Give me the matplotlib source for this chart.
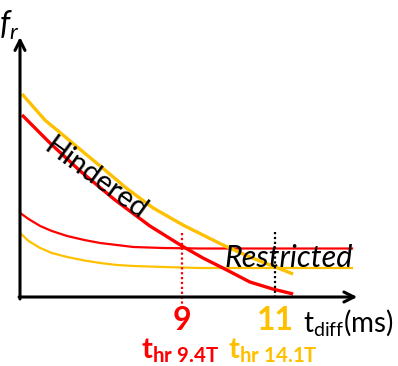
# ==== IMPORT ================================================================ #

import matplotlib
matplotlib.use("Agg")
import matplotlib.pyplot as plt

# ==== DATA ================================================================== #

# x in ms (t_diff), y in arbitrary f_r units
hind_14_t = [5.56, 5.73, 6.05, 6.44, 6.85, 7.24, 7.80, 8.38, 9.02, 9.45, 9.88, 10.46, 10.95, 11.39]
hind_14_f = [2.03, 1.94, 1.77, 1.62, 1.46, 1.31, 1.09, 0.89, 0.72, 0.62, 0.52, 0.40, 0.31, 0.23]

hind_94_t = [5.56, 6.16, 6.81, 7.56, 8.31, 9.00, 9.45, 9.88, 10.46, 10.95, 11.39]
hind_94_f = [1.82, 1.54, 1.26, 0.97, 0.71, 0.51, 0.39, 0.29, 0.15, 0.08, 0.03]

restr_94_t = [5.52, 5.70, 5.95, 6.20, 6.53, 6.90, 7.24, 7.60, 7.95, 8.60, 9.39, 12.68]
restr_94_f = [0.84, 0.78, 0.71, 0.66, 0.61, 0.57, 0.54, 0.52, 0.50, 0.49, 0.485, 0.485]

restr_14_t = [5.52, 5.70, 5.95, 6.20, 6.53, 6.90, 7.24, 7.60, 7.95, 8.60, 9.39, 12.68]
restr_14_f = [0.64, 0.56, 0.49, 0.44, 0.40, 0.365, 0.34, 0.32, 0.31, 0.30, 0.29, 0.29]

t_hr       = [9, 11]
t_hr_text  = ["9", "11"]
t_hr_names = [r"$\mathbf{t}_{\mathbf{hr\ 9.4T}}$", r"$\mathbf{t}_{\mathbf{hr\ 14.1T}}$"]

RED  = "#FF0000"
GOLD = "#FFC000"

# ==== PLOT ================================================================== #

def main():

    plt.rcParams["font.family"]       = ["Lato", "DejaVu Sans"]
    plt.rcParams["mathtext.fontset"]  = "custom"
    plt.rcParams["mathtext.rm"]       = "Lato"
    plt.rcParams["mathtext.it"]       = "Lato:italic"
    plt.rcParams["mathtext.bf"]       = "Lato:bold"

    fig = plt.figure(figsize = (3.98, 3.66), dpi = 100)
    ax  = fig.add_axes([0, 0, 1, 1])
    ax.set_xlim(5.086, 13.645)
    ax.set_ylim(-0.69, 2.97)
    ax.axis("off")

    t0 = 5.516

    # axes with arrows
    ax.annotate("", xy = (t0, 2.60), xytext = (t0, -0.02),
                arrowprops = dict(arrowstyle = "->", lw = 2.2, color = "black",
                                  mutation_scale = 18, shrinkA = 0, shrinkB = 0))
    ax.annotate("", xy = (12.77, 0.0), xytext = (t0 - 0.02, 0.0),
                arrowprops = dict(arrowstyle = "->", lw = 2.2, color = "black",
                                  mutation_scale = 18, shrinkA = 0, shrinkB = 0))

    # curves
    ax.plot(restr_94_t, restr_94_f, color = RED,  lw = 1.6, solid_capstyle = "butt")
    ax.plot(restr_14_t, restr_14_f, color = GOLD, lw = 1.6, solid_capstyle = "butt")
    ax.plot(hind_14_t,  hind_14_f,  color = GOLD, lw = 2.4, solid_capstyle = "butt")
    ax.plot(hind_94_t,  hind_94_f,  color = RED,  lw = 2.4, solid_capstyle = "butt")

    # dotted markers
    ax.plot([t_hr[0], t_hr[0]], [0.64, -0.13], color = RED,   lw = 1.6, ls = (0, (1, 1.2)))
    ax.plot([t_hr[1], t_hr[1]], [0.65, -0.03], color = "black", lw = 1.6, ls = (0, (1, 1.2)))

    # texts
    ax.text(7.14, 1.18, "Hindered", rotation = -36, fontsize = 21,
            ha = "center", va = "center", rotation_mode = "anchor")
    ax.text(11.30, 0.39, "Restricted", style = "italic", fontsize = 22,
            ha = "center", va = "center")
    ax.text(5.28, 2.72, r"$f_r$", fontsize = 23, ha = "center", va = "center")

    cols = [RED, GOLD]
    for t, s, name, c in zip(t_hr, t_hr_text, t_hr_names, cols):
        ax.text(t, -0.23, s, color = c, fontsize = 23, fontweight = "bold",
                ha = "center", va = "center")
        ax.text(t - 0.04, -0.54, name, color = c, fontsize = 21,
                ha = "center", va = "center")

    ax.text(11.60, -0.25, r"t$_{\mathrm{diff}}$(ms)", fontsize = 20,
            ha = "left", va = "center")

    fig.savefig("out.png", dpi = 100)


if __name__ == "__main__":

    main()
